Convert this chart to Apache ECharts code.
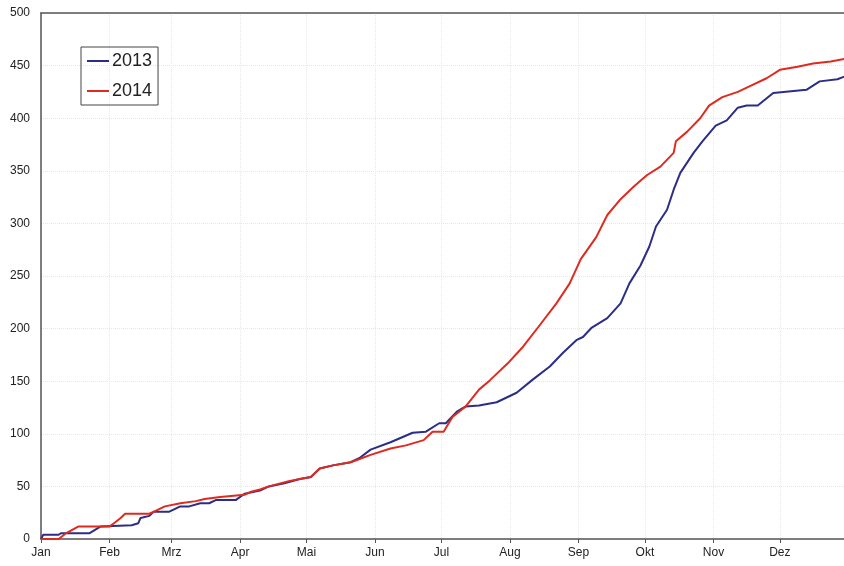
<!DOCTYPE html>
<html><head><meta charset="utf-8">
<script src="https://cdn.jsdelivr.net/npm/echarts@6/dist/echarts.min.js"></script>
<style>html,body{margin:0;padding:0;background:#fff}#c{width:844px;height:566px}</style>
</head><body><div id="c"></div>
<script>
const monthNames = ['Jan','Feb','Mrz','Apr','Mai','Jun','Jul','Aug','Sep','Okt','Nov','Dez'];
const monthStartDays = [0,31,59,90,120,151,181,212,243,273,304,334];
const yTicks = [0,50,100,150,200,250,300,350,400,450,500];

// [day of year, cumulative value]
const series2013 = [
 [0,0],[1,4],[8,4],[9,5.5],[22,5.5],[27,12],[41,13],[44,15],[45,20],[49,22],[51,26],[58,26],
 [63,31],[67,31],[72,34],[76,34],[79,37],[88,37],[92,43],[99,46],[103,50],[110,53],[117,57],
 [122,59],[126,67],[132,70],[140,73],[144,77],[149,85],[158,92],[168,101],[174,102],[180,110],
 [183,110],[188,121],[192,126],[198,127],[206,130],[215,139],[222,151],[230,164],[236,177],
 [242,189],[245,192],[249,201],[256,210],[262,224],[266,243],[271,260],[275,278],[278,297],
 [283,313],[286,332],[289,348],[295,367],[299,378],[305,393],[310,398],[315,410],[319,412],
 [324,412],[331,424],[346,427],[352,435],[360,437],[365,441]
];
const series2014 = [
 [0,0],[8,0],[11,5],[17,12],[31,12],[33,15],[36,20],[38,24],[49,24],[52,27],[56,31],[63,34],
 [70,36],[74,38],[81,40],[92,42],[95,45],[99,47],[103,50],[112,55],[117,57],[122,59],[126,67],
 [132,70],[140,73],[144,76],[149,80],[158,86],[165,89],[173,94],[177,102],[182,102],[186,116],
 [192,126],[198,142],[203,151],[211,167],[218,183],[225,202],[233,224],[239,243],[244,266],
 [251,287],[256,308],[262,323],[268,335],[274,346],[280,354],[286,367],[287,378],[292,387],
 [298,400],[302,412],[308,420],[315,425],[320,430],[328,438],[334,446],[342,449],[349,452],
 [357,454],[365,457]
];

const chart = echarts.init(document.getElementById('c'));
const font = 'Liberation Sans, Arial, sans-serif';
const axisColor = '#555';
chart.setOption({
  animation: false,
  backgroundColor: '#fff',
  grid: { left: 41, right: 0, top: 13, bottom: 27, show: false },
  legend: {
    left: 81, top: 47, orient: 'vertical',
    padding: [4, 6, 4, 6], itemGap: 10,
    borderColor: '#444', borderWidth: 1,
    icon: 'rect', itemWidth: 22, itemHeight: 2,
    textStyle: { fontFamily: font, fontSize: 18, color: '#222', lineHeight: 20, padding: [0,0,0,-2] },
    data: ['2013','2014']
  },
  xAxis: [{
    type: 'value', min: 0, max: 363,
    axisLine: { show: true, lineStyle: { color: axisColor, width: 1.5 } },
    axisTick: { show: true, length: 4, customValues: monthStartDays, lineStyle: { color: axisColor } },
    axisLabel: {
      customValues: monthStartDays, margin: 8,
      fontFamily: font, fontSize: 12, color: '#222',
      formatter: v => monthNames[monthStartDays.indexOf(v)]
    },
    splitLine: { show: true, lineStyle: { color: '#e8e8e8', type: 'dotted' } }
  }, {
    type: 'value', position: 'top', min: 0, max: 363,
    axisLine: { show: true, onZero: false, lineStyle: { color: axisColor, width: 1.5 } },
    axisTick: { show: false }, axisLabel: { show: false }, splitLine: { show: false }
  }],
  yAxis: {
    type: 'value', min: 0, max: 500, interval: 50,
    axisLine: { show: true, lineStyle: { color: axisColor, width: 1.5 } },
    axisTick: { show: false },
    axisLabel: { margin: 11, fontFamily: font, fontSize: 12, color: '#222' },
    splitLine: { show: true, lineStyle: { color: '#e6e6e6', type: 'dotted' } }
  },
  series: [
    { name: '2013', type: 'line', data: series2013, showSymbol: false, symbol: 'none', clip: true,
      lineStyle: { color: '#2b2d86', width: 2 }, itemStyle: { color: '#2b2d86' } },
    { name: '2014', type: 'line', data: series2014, showSymbol: false, symbol: 'none', clip: true,
      lineStyle: { color: '#df2a1f', width: 2 }, itemStyle: { color: '#df2a1f' } }
  ]
});
</script></body></html>
